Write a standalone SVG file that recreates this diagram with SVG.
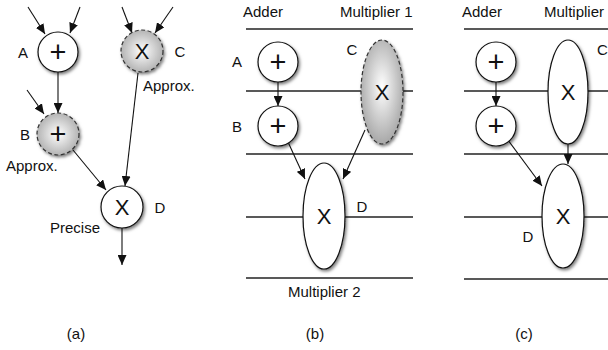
<svg xmlns="http://www.w3.org/2000/svg" width="608" height="350" viewBox="0 0 608 350">
<style>
text{font-family:"Liberation Sans",Arial,sans-serif;font-size:15px;fill:#111}
.sym{font-size:22px;text-anchor:middle}
.plus{font-size:29px;text-anchor:middle}
.mid{text-anchor:middle}
.node{fill:#fff;stroke:#111;stroke-width:1.2;filter:url(#sh)}
.approx{fill:url(#g);stroke:#333;stroke-width:1.2;stroke-dasharray:4 2.5;filter:url(#sh)}
.approxE{fill:url(#ge);stroke:#333;stroke-width:1.2;stroke-dasharray:4 2.5;filter:url(#sh)}
.lane{stroke:#222;stroke-width:1.3}
.edge{stroke:#111;stroke-width:1.1;fill:none;marker-end:url(#ah)}
</style>
<defs>
<filter id="sh" x="-30%" y="-30%" width="160%" height="160%">
<feDropShadow dx="1.5" dy="2" stdDeviation="1.8" flood-color="#000" flood-opacity="0.5"/>
</filter>
<radialGradient id="g" cx="0.5" cy="0.5" r="0.5">
<stop offset="0" stop-color="#ffffff"/>
<stop offset="1" stop-color="#b4b4b4"/>
</radialGradient>
<radialGradient id="ge" cx="0.5" cy="0.45" r="0.55">
<stop offset="0" stop-color="#ffffff"/>
<stop offset="1" stop-color="#a8a8a8"/>
</radialGradient>
<marker id="ah" markerUnits="userSpaceOnUse" markerWidth="11" markerHeight="9" refX="10" refY="4.5" orient="auto">
<path d="M0,0 L10,4.5 L0,9 z" fill="#111"/>
</marker>
</defs>

<g id="lanes">
<line class="lane" x1="246" y1="29" x2="413" y2="29"/>
<line class="lane" x1="246" y1="91" x2="413" y2="91"/>
<line class="lane" x1="246" y1="154" x2="413" y2="154"/>
<line class="lane" x1="246" y1="217" x2="413" y2="217"/>
<line class="lane" x1="246" y1="278" x2="413" y2="278"/>
<line class="lane" x1="464" y1="29" x2="608" y2="29"/>
<line class="lane" x1="464" y1="91" x2="608" y2="91"/>
<line class="lane" x1="464" y1="154" x2="608" y2="154"/>
<line class="lane" x1="464" y1="217" x2="608" y2="217"/>
<line class="lane" x1="464" y1="279" x2="608" y2="279"/>
</g>

<g id="connectors">
<line class="edge" x1="28" y1="7" x2="45" y2="34"/>
<line class="edge" x1="80" y1="7" x2="70" y2="33"/>
<line class="edge" x1="122" y1="7" x2="132" y2="33"/>
<line class="edge" x1="173" y1="7" x2="155" y2="33"/>
<line class="edge" x1="27" y1="90" x2="44" y2="114"/>
<line class="edge" x1="58" y1="72" x2="58" y2="113"/>
<line class="edge" x1="73" y1="150" x2="106" y2="190"/>
<line class="edge" x1="138" y1="73" x2="125" y2="186"/>
<line class="edge" x1="122" y1="228" x2="122" y2="265"/>
<line class="edge" x1="278" y1="82" x2="278" y2="106"/>
<line class="edge" x1="288" y1="142" x2="305" y2="179"/>
<line class="edge" x1="365" y1="130" x2="343" y2="179"/>
<line class="edge" x1="496" y1="82" x2="496" y2="106"/>
<line class="edge" x1="568" y1="144" x2="568" y2="164"/>
<line class="edge" x1="508" y1="140" x2="542" y2="186"/>
</g>

<g id="a-A"><circle class="node" cx="58" cy="52" r="20"/><text class="plus" x="58" y="62">+</text><text class="mid" x="23" y="58">A</text></g>
<g id="a-C"><circle class="approx" cx="142" cy="51" r="21"/><text class="sym" x="142" y="59">X</text><text class="mid" x="180" y="57">C</text><text x="143" y="91">Approx.</text></g>
<g id="a-B"><circle class="approx" cx="58" cy="134" r="21"/><text class="plus" x="58" y="144">+</text><text class="mid" x="25" y="140">B</text><text x="6" y="171">Approx.</text></g>
<g id="a-D"><circle class="node" cx="122" cy="207" r="21"/><text class="sym" x="122" y="215">X</text><text class="mid" x="160" y="213">D</text><text x="50" y="233">Precise</text></g>

<g id="b-header"><text x="243" y="17">Adder</text><text x="340" y="17">Multiplier 1</text><text x="288" y="297">Multiplier 2</text></g>
<g id="b-A"><circle class="node" cx="278" cy="62" r="20"/><text class="plus" x="278" y="72">+</text><text class="mid" x="237" y="67">A</text></g>
<g id="b-B"><circle class="node" cx="278" cy="126" r="20"/><text class="plus" x="278" y="136">+</text><text class="mid" x="237" y="132">B</text></g>
<g id="b-C"><ellipse class="approxE" cx="382" cy="92" rx="21" ry="52"/><text class="sym" x="382" y="100">X</text><text class="mid" x="352" y="55">C</text></g>
<g id="b-D"><ellipse class="node" cx="324" cy="216" rx="21" ry="53"/><text class="sym" x="324" y="224">X</text><text class="mid" x="362" y="212">D</text></g>

<g id="c-header"><text x="462" y="17">Adder</text><text x="544" y="17">Multiplier</text></g>
<g id="c-A"><circle class="node" cx="496" cy="62" r="20"/><text class="plus" x="496" y="72">+</text></g>
<g id="c-B"><circle class="node" cx="496" cy="126" r="20"/><text class="plus" x="496" y="136">+</text></g>
<g id="c-C"><ellipse class="node" cx="568" cy="92" rx="20" ry="52"/><text class="sym" x="568" y="100">X</text><text x="597" y="55">C</text></g>
<g id="c-D"><ellipse class="node" cx="563" cy="216" rx="21" ry="52"/><text class="sym" x="563" y="224">X</text><text class="mid" x="528" y="242">D</text></g>

<g id="captions"><text class="mid" x="76" y="339">(a)</text><text class="mid" x="315" y="339">(b)</text><text class="mid" x="524" y="339">(c)</text></g>
</svg>
